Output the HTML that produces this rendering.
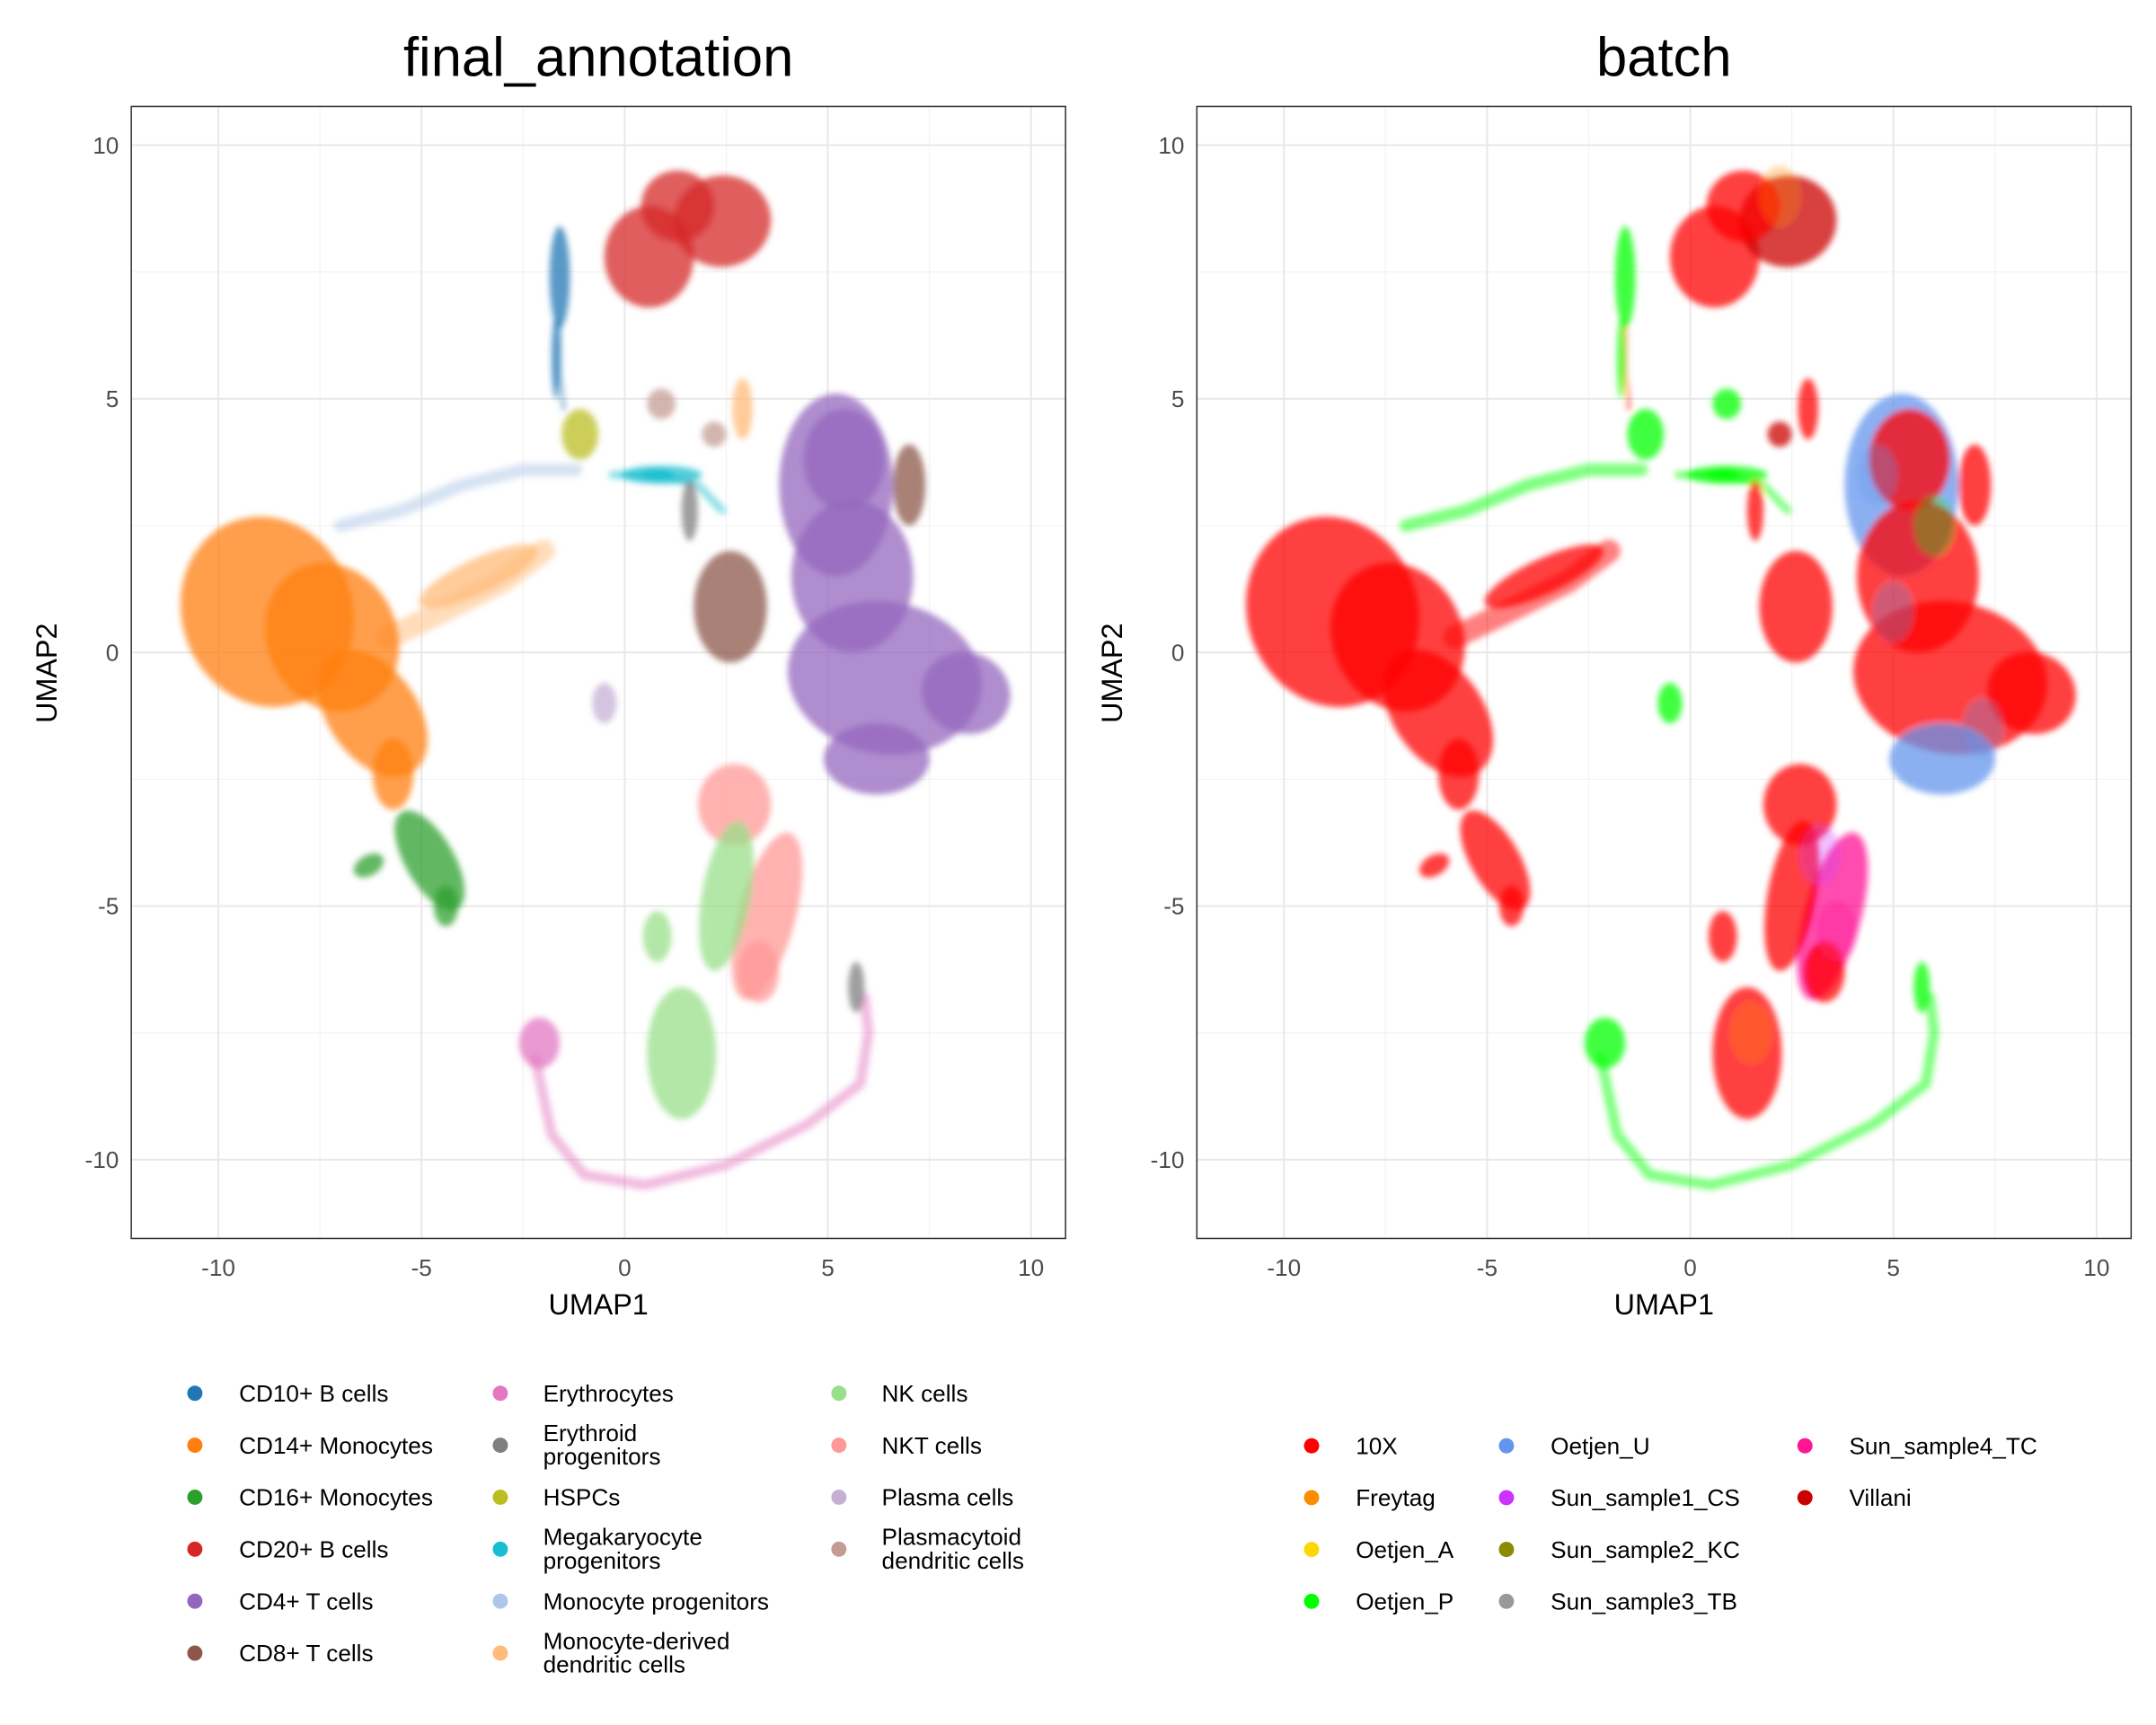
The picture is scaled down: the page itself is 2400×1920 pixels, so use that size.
<!DOCTYPE html>
<html><head><meta charset="utf-8"><style>
html,body{margin:0;padding:0;background:#fff;}
svg{display:block;font-family:"Liberation Sans",Arial,sans-serif;}
</style></head><body>
<svg id="fig" xmlns="http://www.w3.org/2000/svg" width="2400" height="1920" viewBox="0 0 1560 1248">
<defs><filter id="soft" x="-20%" y="-20%" width="140%" height="140%"><feGaussianBlur stdDeviation="2.2"/></filter></defs>
<rect x="0" y="0" width="1560" height="1248" fill="#fff"/>
</svg>
<script>
const annotLabels = ["CD10+ B cells","CD14+ Monocytes","CD16+ Monocytes","CD20+ B cells","CD4+ T cells","CD8+ T cells","Erythrocytes","Erythroid progenitors","HSPCs","Megakaryocyte progenitors","Monocyte progenitors","Monocyte-derived dendritic cells","NK cells","NKT cells","Plasma cells","Plasmacytoid dendritic cells"];
const annotColors = ["#1f77b4","#ff7f0e","#2ca02c","#d62728","#9467bd","#8c564b","#e377c2","#7f7f7f","#bcbd22","#17becf","#aec7e8","#ffbb78","#98df8a","#ff9896","#c5b0d5","#c49c94"];
const batchLabels = ["10X","Freytag","Oetjen_A","Oetjen_P","Oetjen_U","Sun_sample1_CS","Sun_sample2_KC","Sun_sample3_TB","Sun_sample4_TC","Villani"];
const batchColors = ["#ff0000","#ff8c00","#ffd700","#00ff00","#6495ed","#cc33ff","#8b8b00","#999999","#ff1493","#cc0000"];
const blobX = [-8.8,-7.2,-6.2,-5.7,-4.8,-4.4,-6.3, 0.6,2.4,1.3,-1.6,-1.7, 5.2,5.6,6.4,6.2,8.4,5.4, 2.6,7.0, 2.7,3.5,3.3, 1.4,0.8,2.5, -2.1,5.7,1.6, -1.1,0.9,0.8, -3.6,2.9, -0.5, 0.9,2.2];
const blobY = [0.8,0.3,-1.2,-2.4,-4.1,-5.0,-4.2, 7.8,8.5,8.8,7.4,5.8, 3.3,1.5,-0.5,-2.1,-0.8,3.8, 0.9,3.3, -3.0,-5.2,-6.3, -7.9,-5.6,-4.8, -7.7,-6.6,2.8, 4.3,3.5,3.5, 1.5,4.8, -1.0, 4.9,4.3];
const blobRX = [2.1,1.6,1.1,0.5,0.6,0.3,0.4, 1.1,1.2,0.9,0.25,0.1, 1.4,1.5,2.4,1.3,1.1,1.0, 0.9,0.4, 0.9,0.7,0.5, 0.85,0.35,0.6, 0.5,0.2,0.2, 0.45,1.0,0.4, 1.6,0.25, 0.3, 0.35,0.3];
const blobRY = [1.9,1.5,1.4,0.7,1.1,0.4,0.2, 1.0,0.9,0.7,1.0,0.8, 1.8,1.5,1.5,0.7,0.8,1.0, 1.1,0.8, 0.8,1.7,0.6, 1.3,0.5,1.5, 0.5,0.5,0.6, 0.5,0.18,0.12, 0.35,0.6, 0.4, 0.3,0.25];
const blobRot = [-20,-25,-35,0,-30,0,-30, 0,-10,0,0,0, 0,0,10,0,20,0, 0,0, 0,15,0, 0,0,10, 0,0,0, 0,0,0, -25,0, 0, 0,0];
const blobAnnot = [1,1,1,1,2,2,2, 3,3,3,0,0, 4,4,4,4,4,4, 5,5, 13,13,13, 12,12,12, 6,7,7, 8,9,9, 11,11, 14, 15,15];
const blobBatch = [0,0,0,0,0,0,0, 0,9,0,3,3, 4,0,0,4,0,0, 0,0, 0,8,0, 0,0,0, 3,3,0, 3,3,3, 0,0, 3, 3,9];
const bandAnnot = [10,11,6,9,0];
const bandBatch = [3,0,3,3,0];
const bandXs = [[-7,-5.5,-4,-2.5,-1.2],[-5.8,-4.5,-3,-2],[-2.2,-1.8,-1,0.5,2.5,4.5,5.8,6.0,5.9],[-0.3,0.8,1.8,2.4],[-1.6,-1.6,-1.5]];
const bandYs = [[2.5,2.8,3.3,3.6,3.6],[0.3,0.8,1.4,2.0],[-8.0,-9.5,-10.3,-10.5,-10.1,-9.3,-8.5,-7.5,-6.8],[3.5,3.5,3.3,2.8],[6.5,5.5,4.8]];
const bandW = [0.25,0.45,0.2,0.15,0.08];
const xTicks = [-10,-5,0,5,10];
const yTicks = [-10,-5,0,5,10];
const xMinor = [-7.5,-2.5,2.5,7.5];
const yMinor = [-7.5,-2.5,2.5,7.5];
const mixX=[4.6,6.0,5.0,7.2,3.6,3.2,2.2,1.5];
const mixY=[3.5,2.5,0.8,-1.5,-5.5,-4.0,9.0,-7.5];
const mixB=[4,3,4,4,8,5,1,1];

const NS="http://www.w3.org/2000/svg";
const svg=document.getElementById('fig');
function mk(tag,attrs,parent){const e=document.createElementNS(NS,tag);for(const k in attrs)e.setAttribute(k,attrs[k]);(parent||svg).appendChild(e);return e;}
const PX=29.4, PY=36.7;
function panel(off,title,colorBy,pname){
  const g=mk('g',{});
  
  
  const xs=v=>158+off+(v+10)*PX;
  const ys=v=>472-v*PY;
  const L=95+off,R=771+off,T=77,B=896;
  xMinor.forEach(v=>mk('line',{x1:xs(v),x2:xs(v),y1:T,y2:B,stroke:'#f3f3f3','stroke-width':0.8},g));
  yMinor.forEach(v=>mk('line',{x1:L,x2:R,y1:ys(v),y2:ys(v),stroke:'#f3f3f3','stroke-width':0.8},g));
  xTicks.forEach(v=>mk('line',{x1:xs(v),x2:xs(v),y1:T,y2:B,stroke:'#e8e8e8','stroke-width':1.3},g));
  yTicks.forEach(v=>mk('line',{x1:L,x2:R,y1:ys(v),y2:ys(v),stroke:'#e8e8e8','stroke-width':1.3},g));
  const cid='clip'+pname;
  const cp=mk('clipPath',{id:cid},g); mk('rect',{x:L,y:T,width:R-L,height:B-T},cp);
  const dg=mk('g',{'clip-path':'url(#'+cid+')'},g);
  const sg=mk('g',{filter:'url(#soft)'},dg);
  for(let i=0;i<bandXs.length;i++){
    const col=colorBy==='a'?annotColors[bandAnnot[i]]:batchColors[bandBatch[i]];
    const pts=bandXs[i].map((x,j)=>xs(x)+','+ys(bandYs[i][j])).join(' ');
    const p=mk('polyline',{points:pts,fill:'none',stroke:col,'stroke-width':bandW[i]*PY,'stroke-linecap':'round','stroke-linejoin':'round',opacity:0.5},sg);
    
    
  }
  for(let i=0;i<blobX.length;i++){
    const col=colorBy==='a'?annotColors[blobAnnot[i]]:batchColors[blobBatch[i]];
    const cx=xs(blobX[i]),cy=ys(blobY[i]);
    const e=mk('ellipse',{cx:cx,cy:cy,rx:blobRX[i]*PX,ry:blobRY[i]*PY,fill:col,opacity:0.75,transform:'rotate('+blobRot[i]+' '+cx+' '+cy+')'},sg);
    
    
  }
  if(colorBy==='b'){
    for(let i=0;i<mixX.length;i++){
      const cx=xs(mixX[i]),cy=ys(mixY[i]);
      const e=mk('ellipse',{cx:cx,cy:cy,rx:0.5*PX,ry:0.6*PY,fill:batchColors[mixB[i]],opacity:0.3},sg);
      
      
    }
  }
  mk('rect',{x:L,y:T,width:R-L,height:B-T,fill:'none',stroke:'#333','stroke-width':1},g);
  xTicks.forEach(v=>{const t=mk('text',{x:xs(v),y:923,'font-size':17,fill:'#4d4d4d','text-anchor':'middle'},g);t.textContent=v;
    
    });
  yTicks.forEach(v=>{const t=mk('text',{x:L-9,y:ys(v)+6,'font-size':17,fill:'#4d4d4d','text-anchor':'end'},g);t.textContent=v;
    
    });
  const xt=mk('text',{x:(L+R)/2,y:951,'font-size':21,fill:'#000','text-anchor':'middle'},g);xt.textContent='UMAP1';
  
  
  const yt=mk('text',{x:0,y:0,'font-size':21,fill:'#000','text-anchor':'middle',transform:'translate('+(L-54)+',487) rotate(-90)'},g);yt.textContent='UMAP2';
  
  
  const tt=mk('text',{x:(L+R)/2,y:55,'font-size':40,fill:'#000','text-anchor':'middle'},g);tt.textContent=title;
  
  
}
panel(0,'final_annotation','a','annotation');
panel(771,'batch','b','batch');

function legendEntry(dx,tx,y,col,lines){
  const g=mk('g',{});
  
  
  mk('circle',{cx:dx,cy:y,r:5.5,fill:col},g);
  if(lines.length===1){const t=mk('text',{x:tx,y:y+6,'font-size':17,fill:'#000'},g);t.textContent=lines[0];}
  else{lines.forEach((l,k)=>{const t=mk('text',{x:tx,y:y-3+k*17,'font-size':17,fill:'#000'},g);t.textContent=l;});}
}
const aLines=[["CD10+ B cells"],["CD14+ Monocytes"],["CD16+ Monocytes"],["CD20+ B cells"],["CD4+ T cells"],["CD8+ T cells"],["Erythrocytes"],["Erythroid","progenitors"],["HSPCs"],["Megakaryocyte","progenitors"],["Monocyte progenitors"],["Monocyte-derived","dendritic cells"],["NK cells"],["NKT cells"],["Plasma cells"],["Plasmacytoid","dendritic cells"]];
const aDot=[141,362,607],aTxt=[173,393,638];
aLines.forEach((l,i)=>{const c=Math.floor(i/6),r=i%6;legendEntry(aDot[c],aTxt[c],1008+r*37.6,annotColors[i],l);});
const bDot=[949,1090,1306],bTxt=[981,1122,1338];
batchLabels.forEach((l,i)=>{const c=Math.floor(i/4),r=i%4;legendEntry(bDot[c],bTxt[c],1046+r*37.5,batchColors[i],[l]);});
</script>
</body></html>
